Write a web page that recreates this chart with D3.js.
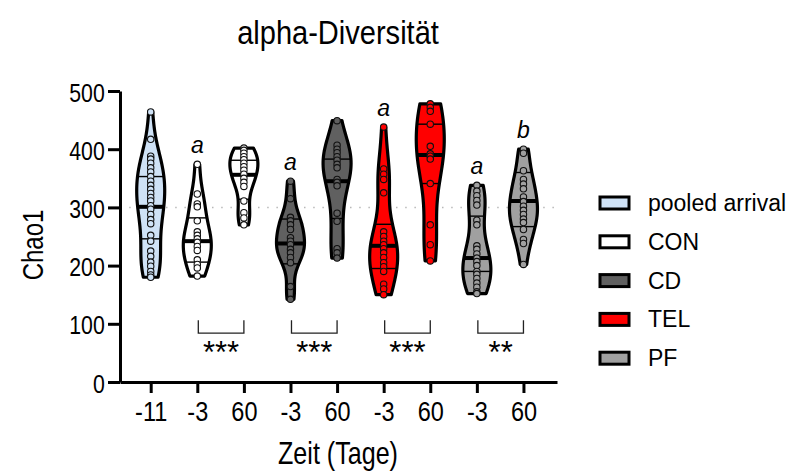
<!DOCTYPE html>
<html>
<head>
<meta charset="utf-8">
<script src="https://cdn.jsdelivr.net/npm/d3@7"></script>
<style>
  html, body { margin: 0; padding: 0; background: #fff; }
  svg { display: block; font-family: "Liberation Sans", Arial, sans-serif; }
</style>
</head>
<body>
<div id="chart"></div>
<script>
// groups shown in the legend
const groups = ["pooled arrival", "CON", "CD", "TEL", "PF"];
const groupColors = ["#cfe2f6", "#ffffff", "#606060", "#ff0000", "#a0a0a0"];

// one violin per x position
const timeLabels = ["-11", "-3", "60", "-3", "60", "-3", "60", "-3", "60"];
const violinGroup = [0, 1, 1, 2, 2, 3, 3, 4, 4];

// Chao1 values per violin
const chao1 = [
  [464, 417, 388, 383, 376, 368, 361, 353, 345, 338, 331, 324, 317, 311, 303, 297, 288, 279, 272, 252, 242, 225, 216, 206, 199, 190, 184, 180],
  [374, 323, 306, 301, 277, 258, 252, 246, 240, 233, 226, 210, 202, 196, 182],
  [402, 398, 393, 387, 382, 376, 370, 364, 357, 350, 343, 336, 311, 291, 282, 270],
  [345, 315, 283, 277, 270, 262, 248, 242, 236, 228, 222, 214, 205, 164, 142],
  [449, 407, 400, 394, 387, 381, 374, 368, 348, 343, 337, 290, 276, 229, 222, 213],
  [438, 366, 357, 348, 325, 258, 250, 242, 236, 229, 222, 214, 205, 198, 190, 168, 160, 150],
  [478, 472, 465, 443, 405, 392, 388, 383, 341, 270, 236, 208],
  [338, 328, 320, 312, 304, 278, 270, 234, 228, 220, 213, 207, 200, 190, 185, 178, 170, 163, 155, 152],
  [400, 393, 363, 348, 340, 332, 318, 310, 302, 295, 288, 280, 274, 262, 245, 238, 202]
];

// quartile lines drawn in each violin
const q1s     = [246, 206, 314, 203, 281, 195, 341, 190, 267];
const medians = [301, 242, 356, 238, 345, 234, 390, 213, 311];
const q3s     = [353, 282, 381, 280, 383, 271, 443, 285, 360];

// letters above violins and brackets between time points
const letters = ["", "a", "", "a", "", "a", "", "a", "b"];
const sigPairs = [[1, 2], [3, 4], [5, 6], [7, 8]];
const sigLabels = ["***", "***", "***", "**"];

const yTicks = [0, 100, 200, 300, 400, 500];
const refLine = 300;

const width = 789, height = 475;
const svg = d3.select("#chart").append("svg")
  .attr("width", width)
  .attr("height", height);

const x = d3.scaleLinear().domain([-0.659, 8.72]).range([120, 557]);
const y = d3.scaleLinear().domain([0, 500]).range([382, 91]);
const halfW = 14;
const squeeze = 0.84; // axis text in the figure is narrow

// dotted reference line
svg.append("line")
  .attr("x1", x(-0.659)).attr("x2", x(8.72))
  .attr("y1", y(refLine)).attr("y2", y(refLine))
  .attr("stroke", "#b8b8b8")
  .attr("stroke-width", 1.5)
  .attr("stroke-dasharray", "1.5,7.7");

// gaussian kde with silverman bandwidth
function makeKde(values) {
  const n = values.length;
  const sd = d3.deviation(values);
  const sorted = values.slice().sort(d3.ascending);
  const iqr = d3.quantile(sorted, 0.75) - d3.quantile(sorted, 0.25);
  const bw = 0.9 * Math.min(sd, iqr / 1.34) * Math.pow(n, -0.2);
  return v => d3.mean(values, d => Math.exp(-0.5 * ((v - d) / bw) ** 2)) / bw;
}

const violins = svg.append("g").attr("class", "violins");

chao1.forEach((vals, i) => {
  const color = groupColors[violinGroup[i]];
  const kde = makeKde(vals);
  const lo = d3.min(vals), hi = d3.max(vals);
  const grid = d3.range(0, 81).map(k => lo + (hi - lo) * k / 80);
  const dens = grid.map(kde);
  const maxD = d3.max(dens);
  const wAt = v => kde(v) / maxD * halfW;
  const cx = x(i);

  const area = d3.area()
    .x0((d, k) => cx - dens[k] / maxD * halfW)
    .x1((d, k) => cx + dens[k] / maxD * halfW)
    .y(d => y(d))
    .curve(d3.curveCatmullRom);

  const g = violins.append("g");
  g.append("path")
    .attr("d", area(grid))
    .attr("fill", color)
    .attr("stroke", "#000")
    .attr("stroke-width", 3.2)
    .attr("stroke-linejoin", "round");

  [[q1s[i], 1.4], [q3s[i], 1.4], [medians[i], 4]].forEach(([q, sw]) => {
    const w = wAt(q);
    g.append("line")
      .attr("x1", cx - w).attr("x2", cx + w)
      .attr("y1", y(q)).attr("y2", y(q))
      .attr("stroke", "#000")
      .attr("stroke-width", sw);
  });

  g.selectAll("circle").data(vals).join("circle")
    .attr("cx", cx)
    .attr("cy", d => y(d))
    .attr("r", 3.2)
    .attr("fill", color)
    .attr("stroke", "#111")
    .attr("stroke-width", 1.1);

  if (letters[i]) {
    g.append("text")
      .attr("x", cx)
      .attr("y", y(hi) - 11)
      .attr("text-anchor", "middle")
      .attr("font-style", "italic")
      .attr("font-size", 23)
      .text(letters[i]);
  }
});

// significance brackets
sigPairs.forEach(([a, b], k) => {
  const xa = x(a) + 1, xb = x(b);
  svg.append("path")
    .attr("d", `M${xa},${y(106)}V${y(84)}H${xb}V${y(106)}`)
    .attr("fill", "none")
    .attr("stroke", "#222")
    .attr("stroke-width", 1.3);
  svg.append("text")
    .attr("x", (xa + xb) / 2)
    .attr("y", 363)
    .attr("text-anchor", "middle")
    .attr("font-size", 31)
    .text(sigLabels[k]);
});

// axes
const xAxis = d3.axisBottom(x)
  .tickValues(d3.range(timeLabels.length))
  .tickFormat(i => timeLabels[i])
  .tickSize(11)
  .tickSizeOuter(0)
  .tickPadding(8);
const gx = svg.append("g").attr("transform", `translate(0,${y(0)})`).call(xAxis);
gx.select(".domain").attr("stroke-width", 3);
gx.selectAll(".tick line").attr("stroke-width", 3);
gx.selectAll(".tick text")
  .attr("font-size", 28)
  .attr("fill", "#000")
  .attr("transform", `scale(${squeeze},1)`);

const yAxis = d3.axisLeft(y)
  .tickValues(yTicks)
  .tickSize(12)
  .tickSizeOuter(0)
  .tickPadding(6);
const gy = svg.append("g").attr("transform", `translate(${x(-0.659)},0)`).call(yAxis);
gy.select(".domain").attr("stroke-width", 3);
gy.selectAll(".tick line").attr("stroke-width", 3);
gy.selectAll(".tick text")
  .attr("font-size", 25)
  .attr("fill", "#000")
  .attr("dy", "0.4em")
  .attr("transform", "scale(0.85,1)");

// titles
svg.append("text")
  .attr("transform", "translate(338,44) scale(0.88,1)")
  .attr("text-anchor", "middle")
  .attr("font-size", 33)
  .text("alpha-Diversität");

svg.append("text")
  .attr("transform", "translate(43,245) rotate(-90) scale(0.8,1)")
  .attr("text-anchor", "middle")
  .attr("font-size", 30)
  .text("Chao1");

svg.append("text")
  .attr("transform", "translate(338,464) scale(0.81,1)")
  .attr("text-anchor", "middle")
  .attr("font-size", 31)
  .text("Zeit (Tage)");

// legend
const legend = svg.append("g").attr("transform", "translate(600,0)");
groups.forEach((name, k) => {
  const cy = 203 + k * 38.8;
  legend.append("rect")
    .attr("x", 0).attr("y", cy - 6)
    .attr("width", 29).attr("height", 12)
    .attr("fill", groupColors[k])
    .attr("stroke", "#000")
    .attr("stroke-width", 3);
  legend.append("text")
    .attr("x", 48).attr("y", cy + 8)
    .attr("font-size", 23)
    .text(name);
});
</script>
</body>
</html>
